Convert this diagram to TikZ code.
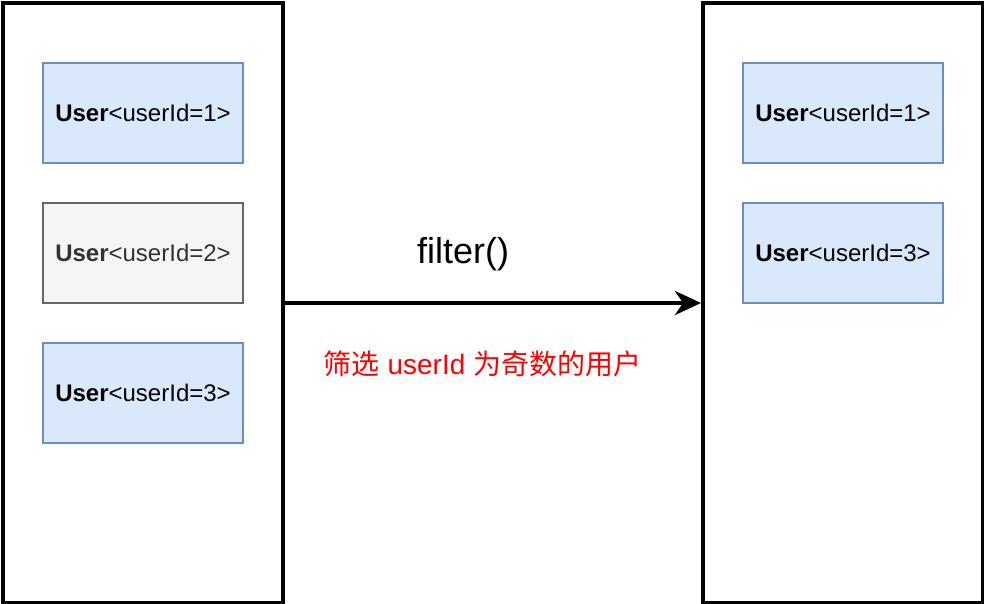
\documentclass[tikz,border=0pt]{standalone}
\usepackage{fontspec}
\setmainfont{Liberation Sans}
\newfontfamily\cjk{Noto Sans CJK SC}
\usetikzlibrary{arrows.meta}
\definecolor{bluefill}{HTML}{DAE8FC}
\definecolor{bluedraw}{HTML}{6C8EBF}
\definecolor{grayfill}{HTML}{F5F5F5}
\definecolor{graydraw}{HTML}{666666}
\definecolor{graytext}{HTML}{333333}
\definecolor{redtext}{HTML}{FF0000}
\tikzset{
  container/.style={draw=black, line width=4pt, fill=white, minimum width=280pt, minimum height=600pt, inner sep=0pt},
  userbox/.style={draw=bluedraw, fill=bluefill, line width=2pt, minimum width=200pt, minimum height=100pt, inner sep=0pt, font=\fontsize{24}{28}\selectfont, text=black},
  grayuser/.style={userbox, draw=graydraw, fill=grayfill, text=graytext},
  flow/.style={line width=4pt, -{Stealth[length=26pt, width=24pt, inset=8pt]}},
  lbl/.style={inner sep=0pt}
}
\begin{document}
\begin{tikzpicture}[x=1pt, y=1pt]
\useasboundingbox (0,0) rectangle (984,-604);
\node[container] (L) at (143,-303) {};
\node[container] (R) at (843,-303) {};
\node[userbox] (l1) at (143,-113) {\textbf{User}<userId=1>};
\node[grayuser] (l2) at (143,-253) {\textbf{User}<userId=2>};
\node[userbox] (l3) at (143,-393) {\textbf{User}<userId=3>};
\node[userbox] (r1) at (843,-113) {\textbf{User}<userId=1>};
\node[userbox] (r3) at (843,-253) {\textbf{User}<userId=3>};
\draw[flow] (L.east) -- (R.west);
\node[lbl, font=\fontsize{36}{40}\selectfont] (f) at (463,-254) {filter()};
\node[lbl, text=redtext, font=\fontsize{28}{32}\selectfont] (c) at (482.5,-364) {{\cjk 筛选} userId {\cjk 为奇数的用户}};
\end{tikzpicture}
\end{document}
